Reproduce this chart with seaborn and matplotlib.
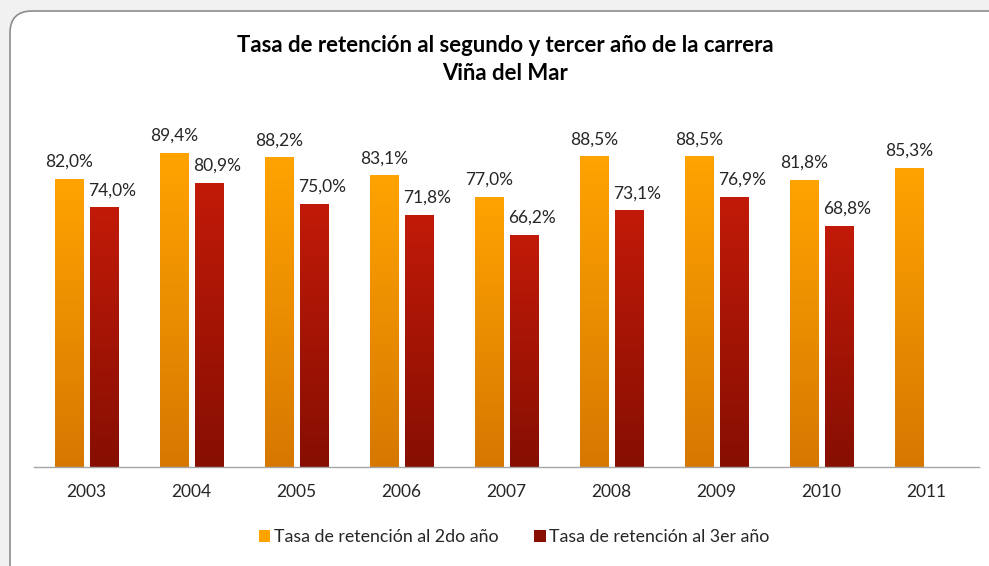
import numpy as np
import pandas as pd
import matplotlib
matplotlib.use("Agg")
import matplotlib.pyplot as plt
from matplotlib.patches import FancyBboxPatch, Rectangle
from matplotlib.colors import LinearSegmentedColormap
import seaborn as sns

# data
years = ["2003", "2004", "2005", "2006", "2007", "2008", "2009", "2010", "2011"]
ret_2do = [82.0, 89.4, 88.2, 83.1, 77.0, 88.5, 88.5, 81.8, 85.3]
ret_3er = [74.0, 80.9, 75.0, 71.8, 66.2, 73.1, 76.9, 68.8, np.nan]
series = ["Tasa de retención al 2do año", "Tasa de retención al 3er año"]

# gradient colours (top, bottom) per series
grad_2do = ("#ffa300", "#d67800")
grad_3er = ("#c21a08", "#860f02")

df = pd.DataFrame({
    "Año": years * 2,
    "Serie": [series[0]] * len(years) + [series[1]] * len(years),
    "Valor": ret_2do + ret_3er,
})

sns.set_theme(style="white")
plt.rcParams["font.family"] = ["Lato", "DejaVu Sans"]

fig = plt.figure(figsize=(9.89, 5.66), dpi=100, facecolor="#f1f1f1")

# rounded white frame of the chart area
frame = FancyBboxPatch((0.10, -0.5), 10.5, 5.66 - 0.11 + 0.5,
                       boxstyle="round,pad=0,rounding_size=0.22",
                       transform=fig.dpi_scale_trans, facecolor="white",
                       edgecolor="#8c8c8c", linewidth=1.2, zorder=-5)
fig.patches.append(frame)

ax = fig.add_axes([34 / 989, 99 / 566, 945 / 989, 351 / 566], zorder=2)
ax.set_facecolor("none")

sns.barplot(data=df, x="Año", y="Valor", hue="Serie",
            palette=[grad_2do[0], grad_3er[0]], width=0.66, gap=0.18,
            ax=ax, legend=False)

# replace flat fills by vertical gradients + data labels
bars = [p for p in ax.patches if isinstance(p, Rectangle)]
for i, p in enumerate(bars):
    h = p.get_height()
    if not np.isfinite(h) or h == 0:
        continue
    x0, w = p.get_x(), p.get_width()
    top, bot = grad_2do if i < len(years) else grad_3er
    cmap = LinearSegmentedColormap.from_list("g", [bot, top])
    grad = np.linspace(0, 1, 256).reshape(-1, 1)
    im = ax.imshow(grad, cmap=cmap, aspect="auto", origin="lower",
                   extent=(x0, x0 + w, 0, h), zorder=2)
    im.set_clip_path(p)
    p.set_facecolor("none")
    p.set_edgecolor("none")
    dx = 0.0 if i < len(years) else 0.08
    ax.text(x0 + w / 2 + dx, h + 2.6, f"{h:.1f}%".replace(".", ","),
            ha="center", va="bottom", fontsize=12.5, color="#262626", zorder=3)

ax.set_xlim(-0.5, len(years) - 0.5)
ax.set_ylim(0, 100)

for s in ["top", "right", "left"]:
    ax.spines[s].set_visible(False)
ax.spines["bottom"].set_color("#a6a6a6")
ax.spines["bottom"].set_linewidth(1.0)
ax.set_yticks([])
ax.set_xlabel("")
ax.set_ylabel("")
ax.tick_params(axis="x", length=0, pad=12, labelsize=12.5, labelcolor="#262626")

fig.text(0.5105, 1 - 45 / 566, "Tasa de retención al segundo y tercer año de la carrera",
         ha="center", va="center", fontsize=15.9, fontweight="bold", color="black")
fig.text(0.5105, 1 - 73 / 566, "Viña del Mar",
         ha="center", va="center", fontsize=15.9, fontweight="bold", color="black")

handles = [Rectangle((0, 0), 1, 1, facecolor=grad_2do[0], edgecolor="none"),
           Rectangle((0, 0), 1, 1, facecolor=grad_3er[1], edgecolor="none")]
fig.legend(handles, series, loc="center", bbox_to_anchor=(0.52, 1 - 537 / 566),
           ncol=2, frameon=False, fontsize=12.8, handlelength=0.65,
           handleheight=0.65, handletextpad=0.2, columnspacing=2.0,
           labelcolor="#262626")

fig.savefig("out.png", dpi=100, facecolor=fig.get_facecolor())
